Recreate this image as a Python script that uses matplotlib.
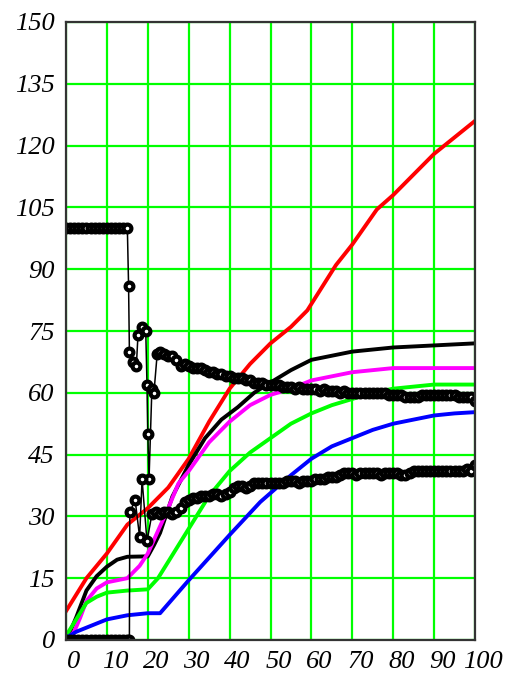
import numpy as np
import matplotlib
matplotlib.use("Agg")
import matplotlib.pyplot as plt
import matplotlib.transforms as mtransforms

# smooth coloured curves
red_x = [0, 5, 10, 15, 20, 25, 30, 35, 40, 45, 50, 55, 59, 66, 70, 76, 80, 85, 90, 95, 100]
red_y = [7, 15, 21, 28, 32, 37, 44, 53, 61, 67, 72, 76, 80, 91, 96, 104.5, 108, 113, 118, 122, 126]

black_x = [0, 1, 2.5, 5, 7.5, 10, 12.5, 15, 20, 21.5, 23, 26, 30, 34, 38, 42, 46, 50, 55, 60, 65, 70, 80, 90, 100]
black_y = [0, 2, 5.5, 12, 15.5, 17.8, 19.5, 20.2, 20.3, 23, 26, 34.8, 42.5, 49, 53.5, 56.5, 60, 62.5, 65.5, 68, 69, 70, 71, 71.5, 72]

magenta_x = [0, 2, 3.5, 5, 7.5, 10, 15, 18, 20, 22.5, 25, 27.5, 30, 35, 40, 45, 50, 55, 60, 65, 70, 80, 90, 100]
magenta_y = [0, 2, 5.5, 9.5, 12.5, 14, 15, 18, 21, 26.5, 32, 38, 41, 48, 53, 57, 59.5, 61, 63, 64, 65, 66, 66, 66]

green_x = [0, 2.5, 5, 7.5, 10, 15, 20, 22.5, 25, 30, 35, 40, 45, 50, 55, 60, 65, 70, 75, 80, 90, 100]
green_y = [1, 5, 9, 10.5, 11.5, 12, 12.3, 15, 19, 27, 35, 41, 45.5, 49, 52.5, 55, 57, 58.5, 60, 61, 62, 62]

blue_x = [0, 2.5, 5, 10, 15, 20, 23, 30, 35, 40, 47.5, 55, 60, 65, 70, 75, 80, 85, 90, 95, 100]
blue_y = [0.5, 2, 3, 5, 6, 6.5, 6.5, 14.5, 20, 25.5, 33.5, 40, 44, 47, 49, 51, 52.5, 53.5, 54.5, 55, 55.3]

# marker series starting at 100
a_x = [0, 1, 2, 3, 4, 5, 6, 7, 8, 9, 10, 11, 12, 13, 14, 15,
       15.3, 15.5, 16.4, 17.2, 17.6, 18.5, 19.5, 19.8, 20, 20.3, 21, 21.5, 22.3,
       23, 24, 25, 26, 27, 28, 29, 30, 31, 32, 33, 34, 35, 36, 37, 38, 39, 40,
       41, 42, 43, 44, 45, 46, 47, 48, 49, 50, 51, 52, 53, 54, 55, 56, 57, 58, 59, 60,
       61, 62, 63, 64, 65, 66, 67, 68, 69, 70, 71, 72, 73, 74, 75, 76, 77, 78, 79, 80,
       81, 82, 83, 84, 85, 86, 87, 88, 89, 90, 91, 92, 93, 94, 95, 96, 97, 98, 99, 100]
a_y = [100, 100, 100, 100, 100, 100, 100, 100, 100, 100, 100, 100, 100, 100, 100, 100,
       86, 70, 67.4, 66.5, 74, 76, 75, 62, 50, 39, 61, 60, 69.5,
       70, 69.5, 69, 69, 68, 66.5, 67, 66.5, 66, 66, 66, 65.5, 65, 65, 64.5, 64.5, 64, 64,
       63.5, 63.5, 63.5, 63, 63, 62.5, 62.5, 62.5, 62, 62, 62, 62, 61.5, 61.5, 61.5, 61, 61.5, 61, 61, 61,
       61, 60.5, 61, 60.5, 60.5, 60.5, 60, 60.5, 60, 60, 60, 60, 60, 60, 60, 60, 60, 60, 59.5, 59.5,
       59.5, 59.5, 59, 59, 59, 59, 59.5, 59.5, 59.5, 59.5, 59.5, 59.5, 59.5, 59.5, 59.5, 59, 59, 59, 59, 58]

# marker series starting at 0
b_x = [0, 1, 2, 3, 4, 5, 6, 7, 8, 9, 10, 11, 12, 13, 14, 15, 15.5,
       15.6, 16.9, 18, 18.6, 19.8, 21,
       22, 23, 24, 25, 26, 27, 28, 29, 30, 31, 32, 33, 34, 35, 36, 37, 38, 39, 40,
       41, 42, 43, 44, 45, 46, 47, 48, 49, 50, 51, 52, 53, 54, 55, 56, 57, 58, 59, 60,
       61, 62, 63, 64, 65, 66, 67, 68, 69, 70, 71, 72, 73, 74, 75, 76, 77, 78, 79, 80,
       81, 82, 83, 84, 85, 86, 87, 88, 89, 90, 91, 92, 93, 94, 95, 96, 97, 98, 99, 100]
b_y = [0, 0, 0, 0, 0, 0, 0, 0, 0, 0, 0, 0, 0, 0, 0, 0, 0,
       31, 34, 25, 39, 24, 30.5,
       31, 30.5, 31, 31, 30.5, 31, 32, 33.5, 34, 34.5, 34.5, 35, 35, 35, 35.5, 35.5, 35, 35.5, 36,
       37, 37.5, 37.5, 37, 37.5, 38, 38, 38, 38, 38, 38, 38, 38, 38.5, 38.5, 38.5, 38, 38.5, 38.5, 38.5,
       39, 39, 39, 39.5, 39.5, 39.5, 40, 40.5, 40.5, 40.5, 40, 40.5, 40.5, 40.5, 40.5, 40.5, 40, 40.5, 40.5, 40.5,
       40.5, 40, 40, 40.5, 41, 41, 41, 41, 41, 41, 41, 41, 41, 41, 41, 41, 41, 41.5, 41, 42.5]

x_ticks = np.arange(0, 101, 10)
y_ticks = np.arange(0, 151, 15)

fig = plt.figure(figsize=(5.09, 6.74), dpi=100)
ax = fig.add_axes([66 / 509, 34 / 674, 409 / 509, 618 / 674])

ax.plot(red_x, red_y, color="#ff0000", lw=2.8)
ax.plot(black_x, black_y, color="black", lw=2.8)
ax.plot(magenta_x, magenta_y, color="#ff00ff", lw=2.8)
ax.plot(green_x, green_y, color="#00ff00", lw=2.8)
ax.plot(blue_x, blue_y, color="#0000ff", lw=2.8)

mk = dict(color="black", lw=1.1, marker="o", ms=5.6, mfc="white", mec="black", mew=3.0)
ax.plot(a_x, a_y, **mk)
ax.plot(b_x, b_y, **mk)

ax.set_xlim(0, 100)
ax.set_ylim(0, 150)
ax.set_xticks(x_ticks)
ax.set_yticks(y_ticks)
ax.grid(True, color="#00ff00", lw=1.6)
ax.set_axisbelow(True)
for s in ax.spines.values():
    s.set_color("#333333")
    s.set_linewidth(1.6)

ax.tick_params(length=0)
ax.tick_params(axis="x", pad=8)
ax.tick_params(axis="y", pad=8)
for lab in ax.get_xticklabels() + ax.get_yticklabels():
    lab.set_fontfamily("Liberation Serif")
    lab.set_fontstyle("italic")
    lab.set_fontsize(19)

# the x labels sit a little right of their grid lines
offset = mtransforms.ScaledTranslation(8 / 100, 0, fig.dpi_scale_trans)
for lab in ax.get_xticklabels():
    lab.set_transform(lab.get_transform() + offset)

fig.savefig("out.png", dpi=100)
